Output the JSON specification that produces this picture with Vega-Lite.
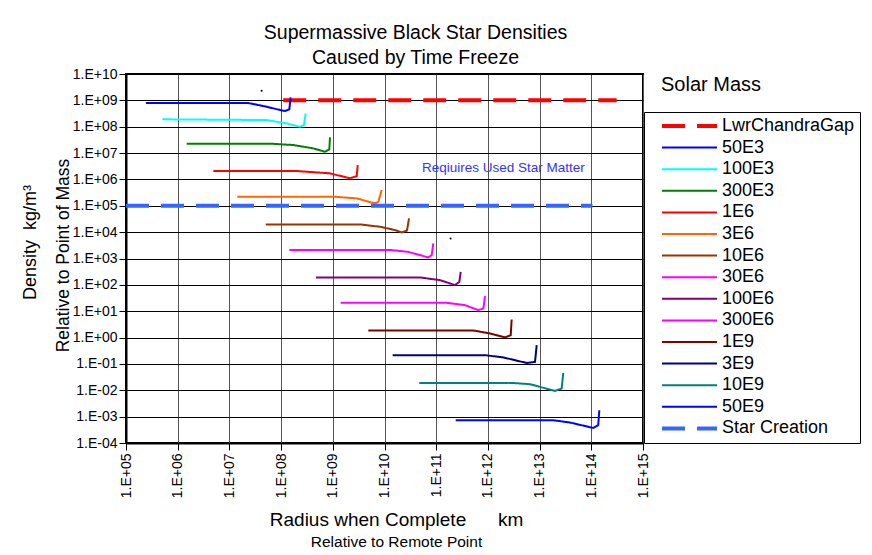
{
  "$schema": "https://vega.github.io/schema/vega-lite/v6.json",
  "width": 517,
  "height": 369,
  "autosize": {"type": "none"},
  "padding": {"left": 126, "top": 74, "right": 229, "bottom": 112},
  "background": "white",
  "title": {
    "text": ["Supermassive Black Star Densities", "Caused by Time Freeze"],
    "fontSize": 19.5, "font": "Liberation Sans", "fontWeight": "normal", "lineHeight": 25,
    "anchor": "middle", "frame": "group", "dx": 31, "offset": -1, "color": "black"
  },
  "config": {
    "font": "Liberation Sans",
    "view": {"stroke": "black", "strokeWidth": 2},
    "axis": {
      "domainColor": "black", "domainWidth": 2, "tickColor": "black", "tickSize": 7,
      "labelColor": "black", "titleColor": "black", "titleFontWeight": "normal",
      "labelFont": "Liberation Sans", "titleFont": "Liberation Sans"
    }
  },
  "layer": [
    {
      "data": {"values": [
        {"s":"LwrChandraGap","i":0,"r":1.1e8,"d":1e9},
        {"s":"LwrChandraGap","i":1,"r":3.09e14,"d":1e9},
        {"s":"50E3","i":0,"r":2.44e5,"d":7.92e8},
        {"s":"50E3","i":1,"r":2.32e7,"d":7.92e8},
        {"s":"50E3","i":2,"r":5.26e7,"d":5.74e8},
        {"s":"50E3","i":3,"r":9.53e7,"d":4.30e8},
        {"s":"50E3","i":4,"r":1.19e8,"d":3.94e8},
        {"s":"50E3","i":5,"r":1.44e8,"d":4.57e8},
        {"s":"50E3","i":6,"r":1.53e8,"d":1.30e9},
        {"s":"100E3","i":0,"r":5.05e5,"d":1.91e8},
        {"s":"100E3","i":1,"r":5.26e7,"d":1.79e8},
        {"s":"100E3","i":2,"r":1.28e8,"d":1.34e8},
        {"s":"100E3","i":3,"r":2.32e8,"d":1.0e8},
        {"s":"100E3","i":4,"r":2.77e8,"d":1.16e8},
        {"s":"100E3","i":5,"r":2.99e8,"d":3.22e8},
        {"s":"300E3","i":0,"r":1.49e6,"d":2.26e7},
        {"s":"300E3","i":1,"r":6.58e7,"d":2.26e7},
        {"s":"300E3","i":2,"r":1.72e8,"d":2.02e7},
        {"s":"300E3","i":3,"r":4.20e8,"d":1.51e7},
        {"s":"300E3","i":4,"r":7.06e8,"d":1.12e7},
        {"s":"300E3","i":5,"r":8.55e8,"d":1.38e7},
        {"s":"300E3","i":6,"r":8.83e8,"d":3.95e7},
        {"s":"1E6","i":0,"r":4.89e6,"d":2.07e6},
        {"s":"1E6","i":1,"r":2.15e8,"d":2.07e6},
        {"s":"1E6","i":2,"r":8.83e8,"d":1.70e6},
        {"s":"1E6","i":3,"r":2.15e9,"d":1.10e6},
        {"s":"1E6","i":4,"r":2.90e9,"d":1.34e6},
        {"s":"1E6","i":5,"r":3.03e9,"d":3.51e6},
        {"s":"3E6","i":0,"r":1.42e7,"d":2.20e5},
        {"s":"3E6","i":1,"r":1.10e9,"d":2.20e5},
        {"s":"3E6","i":2,"r":2.90e9,"d":1.91e5},
        {"s":"3E6","i":3,"r":6.55e9,"d":1.23e5},
        {"s":"3E6","i":4,"r":7.59e9,"d":1.42e5},
        {"s":"3E6","i":5,"r":8.83e9,"d":3.94e5},
        {"s":"10E6","i":0,"r":5.04e7,"d":1.97e4},
        {"s":"10E6","i":1,"r":3.36e9,"d":1.97e4},
        {"s":"10E6","i":2,"r":8.18e9,"d":1.60e4},
        {"s":"10E6","i":3,"r":1.60e10,"d":1.20e4},
        {"s":"10E6","i":4,"r":2.15e10,"d":9.77e3},
        {"s":"10E6","i":5,"r":2.72e10,"d":1.15e4},
        {"s":"10E6","i":6,"r":2.98e10,"d":3.33e4},
        {"s":"30E6","i":0,"r":1.44e8,"d":2.08e3},
        {"s":"30E6","i":1,"r":1.38e10,"d":2.08e3},
        {"s":"30E6","i":2,"r":2.88e10,"d":1.79e3},
        {"s":"30E6","i":3,"r":7.03e10,"d":1.10e3},
        {"s":"30E6","i":4,"r":8.18e10,"d":1.34e3},
        {"s":"30E6","i":5,"r":8.79e10,"d":3.74e3},
        {"s":"100E6","i":0,"r":4.73e8,"d":191},
        {"s":"100E6","i":1,"r":4.86e10,"d":191},
        {"s":"100E6","i":2,"r":1.19e11,"d":151},
        {"s":"100E6","i":3,"r":2.31e11,"d":97.7},
        {"s":"100E6","i":4,"r":2.80e11,"d":130},
        {"s":"100E6","i":5,"r":2.98e11,"d":312},
        {"s":"300E6","i":0,"r":1.42e9,"d":20.8},
        {"s":"300E6","i":1,"r":1.60e11,"d":20.8},
        {"s":"300E6","i":2,"r":3.61e11,"d":17.0},
        {"s":"300E6","i":3,"r":6.53e11,"d":11.0},
        {"s":"300E6","i":4,"r":8.17e11,"d":12.7},
        {"s":"300E6","i":5,"r":8.79e11,"d":37.3},
        {"s":"1E9","i":0,"r":4.86e9,"d":1.86},
        {"s":"1E9","i":1,"r":5.22e11,"d":1.86},
        {"s":"1E9","i":2,"r":1.10e12,"d":1.43},
        {"s":"1E9","i":3,"r":2.14e12,"d":1.01},
        {"s":"1E9","i":4,"r":2.76e12,"d":1.23},
        {"s":"1E9","i":5,"r":2.88e12,"d":4.86},
        {"s":"3E9","i":0,"r":1.44e10,"d":0.215},
        {"s":"3E9","i":1,"r":8.79e11,"d":0.215},
        {"s":"3E9","i":2,"r":1.99e12,"d":0.176},
        {"s":"3E9","i":3,"r":5.62e12,"d":0.109},
        {"s":"3E9","i":4,"r":8.15e12,"d":0.119},
        {"s":"3E9","i":5,"r":8.79e12,"d":0.514},
        {"s":"10E9","i":0,"r":4.71e10,"d":0.0191},
        {"s":"10E9","i":1,"r":2.88e12,"d":0.0191},
        {"s":"10E9","i":2,"r":6.52e12,"d":0.0170},
        {"s":"10E9","i":3,"r":1.99e13,"d":0.00948},
        {"s":"10E9","i":4,"r":2.67e13,"d":0.0117},
        {"s":"10E9","i":5,"r":2.87e13,"d":0.0457},
        {"s":"50E9","i":0,"r":2.38e11,"d":0.000731},
        {"s":"50E9","i":1,"r":1.84e13,"d":0.000731},
        {"s":"50E9","i":2,"r":3.87e13,"d":0.000597},
        {"s":"50E9","i":3,"r":1.09e14,"d":0.000373},
        {"s":"50E9","i":4,"r":1.36e14,"d":0.000472},
        {"s":"50E9","i":5,"r":1.43e14,"d":0.00175},
        {"s":"Star Creation","i":0,"r":1e5,"d":1e5},
        {"s":"Star Creation","i":1,"r":1.05e14,"d":1e5}
      ]},
      "mark": {"type": "line", "clip": true},
      "encoding": {
        "x": {
          "field": "r", "type": "quantitative",
          "scale": {"type": "log", "domain": [1e5, 1e15], "nice": false},
          "axis": {
            "values": [1e5, 1e6, 1e7, 1e8, 1e9, 1e10, 1e11, 1e12, 1e13, 1e14, 1e15],
            "labelExpr": "'1.E' + (datum.value >= 1 ? '+' : '-') + format(abs(round(log(datum.value)/LN10)), '02d')",
            "labelAngle": 270, "labelFontSize": 14, "labelPadding": 3,
            "grid": true, "gridColor": "#555555", "gridWidth": 1,
            "title": "Radius when Complete\u00a0\u00a0\u00a0\u00a0\u00a0\u00a0km",
            "titleFontSize": 19, "titleX": 270, "titleY": 76, "titleBaseline": "middle"
          }
        },
        "y": {
          "field": "d", "type": "quantitative",
          "scale": {"type": "log", "domain": [0.0001, 1e10], "nice": false},
          "axis": {
            "values": [0.0001, 0.001, 0.01, 0.1, 1, 10, 100, 1000, 10000, 100000, 1e6, 1e7, 1e8, 1e9, 1e10],
            "labelExpr": "'1.E' + (datum.value >= 1 ? '+' : '-') + format(abs(round(log(datum.value)/LN10)), '02d')",
            "labelFontSize": 14, "labelPadding": 2,
            "grid": true, "gridColor": "black", "gridWidth": 1,
            "title": "Relative to Point of Mass",
            "titleFontSize": 17.5, "titleX": -63, "titleY": 181, "titleBaseline": "middle"
          }
        },
        "color": {
          "field": "s", "type": "nominal",
          "scale": {
            "domain": ["LwrChandraGap","50E3","100E3","300E3","1E6","3E6","10E6","30E6","100E6","300E6","1E9","3E9","10E9","50E9","Star Creation"],
            "range": ["#FF0000","#0000FF","#00FFFF","#008000","#FF0000","#FF6600","#993300","#FF00FF","#800080","#FF00FF","#800000","#000080","#008080","#0000FF","#3366FF"]
          },
          "legend": {
            "title": null, "orient": "none", "legendX": 518, "legendY": 38,
            "labelFontSize": 18, "labelColor": "black", "labelOffset": 55, "labelLimit": 300,
            "symbolType": "M4,0H59", "symbolSize": 4, "symbolStrokeWidth": 2,
            "rowPadding": 3.6, "padding": 5, "strokeColor": "black", "fillColor": "white",
            "encode": {
              "symbols": {"update": {"strokeWidth": {"signal": "datum.value === 'LwrChandraGap' || datum.value === 'Star Creation' ? 4 : 2"}}}
            }
          }
        },
        "strokeDash": {
          "field": "s", "type": "nominal",
          "scale": {
            "domain": ["LwrChandraGap","50E3","100E3","300E3","1E6","3E6","10E6","30E6","100E6","300E6","1E9","3E9","10E9","50E9","Star Creation"],
            "range": [[23,12],[1,0],[1,0],[1,0],[1,0],[1,0],[1,0],[1,0],[1,0],[1,0],[1,0],[1,0],[1,0],[1,0],[23,12]]
          },
          "legend": {
            "title": null, "orient": "none", "legendX": 518, "legendY": 38,
            "labelFontSize": 18, "labelColor": "black", "labelOffset": 55, "labelLimit": 300,
            "symbolType": "M4,0H59", "symbolSize": 4, "symbolStrokeWidth": 2,
            "rowPadding": 3.6, "padding": 5, "strokeColor": "black", "fillColor": "white"
          }
        },
        "strokeWidth": {
          "condition": {"test": "datum.s === 'LwrChandraGap' || datum.s === 'Star Creation'", "value": 4},
          "value": 2
        },
        "order": {"field": "i", "type": "quantitative"}
      }
    },
    {
      "data": {"values": [{"r": 2.0e12, "d": 2.7e6, "t": "Reqiuires Used Star Matter"}]},
      "mark": {"type": "text", "fontSize": 13.5, "color": "#3333FF", "font": "Liberation Sans"},
      "encoding": {
        "x": {
          "field": "r", "type": "quantitative",
          "scale": {"type": "log", "domain": [1e5, 1e15], "nice": false},
          "axis": {
            "orient": "bottom", "labels": false, "ticks": false, "domain": false, "grid": false,
            "title": "Relative to Remote Point", "titleFontSize": 15.5,
            "titleX": 270, "titleY": 98, "titleBaseline": "middle"
          }
        },
        "y": {
          "field": "d", "type": "quantitative",
          "scale": {"type": "log", "domain": [0.0001, 1e10], "nice": false},
          "axis": {
            "orient": "left", "labels": false, "ticks": false, "domain": false, "grid": false,
            "title": "Density\u00a0\u00a0kg/m³", "titleFontSize": 18,
            "titleX": -96, "titleY": 168, "titleBaseline": "middle"
          }
        },
        "text": {"field": "t"}
      }
    },
    {
      "data": {"values": [{"r": 4.2e7, "d": 2.3e9}, {"r": 1.9e11, "d": 5.8e3}]},
      "mark": {"type": "point", "filled": true, "color": "black", "size": 4},
      "encoding": {
        "x": {"field": "r", "type": "quantitative", "scale": {"type": "log", "domain": [1e5, 1e15], "nice": false}, "axis": null},
        "y": {"field": "d", "type": "quantitative", "scale": {"type": "log", "domain": [0.0001, 1e10], "nice": false}, "axis": null},
        "opacity": {
          "datum": "Solar Mass", "type": "ordinal",
          "scale": {"domain": ["Solar Mass"], "range": [1]},
          "legend": {
            "title": null, "orient": "none", "legendX": 515, "legendY": 1,
            "padding": 0, "labelOffset": 0, "labelFontSize": 20, "labelColor": "black", "labelLimit": 300,
            "symbolOpacity": 0, "symbolStrokeWidth": 0, "symbolSize": 0, "symbolType": "M0,0",
            "encode": {
              "symbols": {"update": {"opacity": {"value": 0}}}
            }
          }
        }
      }
    }
  ],
  "resolve": {"axis": {"x": "independent", "y": "independent"}}
}
